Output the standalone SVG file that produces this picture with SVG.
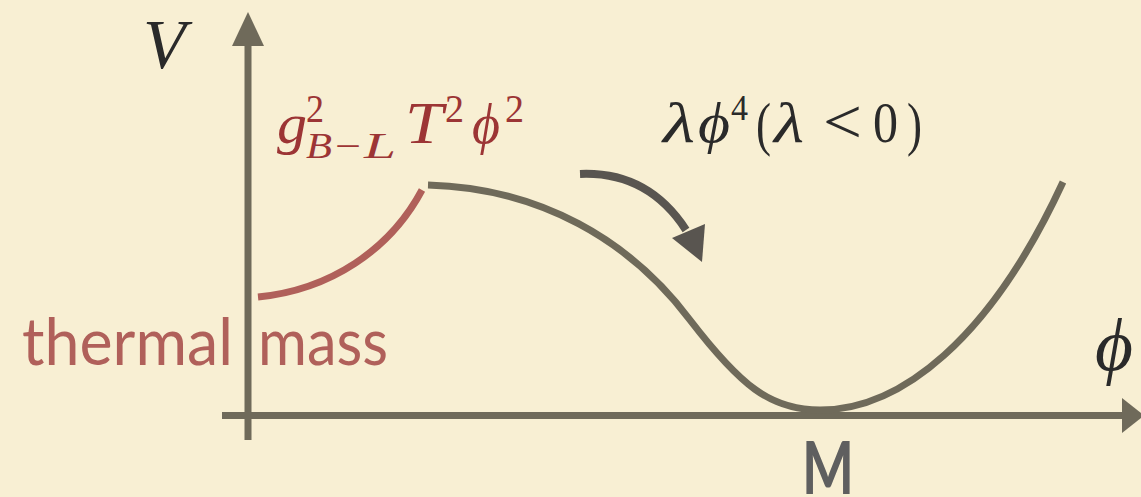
<svg xmlns="http://www.w3.org/2000/svg" width="1141" height="497" viewBox="0 0 1141 497">
<style>
.m{font-family:"Liberation Serif","DejaVu Serif",serif;font-style:italic;fill:#2a2a2a}
.u{font-family:"Liberation Serif","DejaVu Serif",serif;fill:#2a2a2a}
.r{fill:#9c3535}
.axis{stroke:#6f6a5a;stroke-width:7;fill:none}
.curve{stroke:#6f6a5a;stroke-width:7;fill:none;stroke-linecap:butt}
.gs{font-family:Lato,"Open Sans",sans-serif}
</style>
<rect width="1141" height="497" fill="#f8efd3"/>
<g id="axes">
<line class="axis" x1="248" y1="440" x2="248" y2="42"/>
<polygon points="248,12 232,46 264,46" fill="#6f6a5a"/>
<line class="axis" x1="222" y1="415.5" x2="1126" y2="415.5"/>
<polygon points="1122,398 1122,433 1144,415.5" fill="#6f6a5a"/>
</g>
<g id="connectors">
<path id="thermal-curve" d="M258,297 C330,290 390,250 422,190" stroke="#b0605a" stroke-width="7" fill="none"/>
<path id="potential-curve" class="curve" d="M428,185 C540,188 630,240 690,320 C740,385 770,410 820,410 C900,410 990,340 1063,182"/>
<path id="roll-arrow" d="M580,174 C628,172 662,193 686,230" stroke="#595550" stroke-width="8" fill="none"/>
<polygon points="672,238 705,224 702,262" fill="#595550"/>
</g>
<g id="label-V"><text class="m" x="143" y="68" font-size="70">V</text></g>
<g id="label-phi-axis"><text class="m" x="1095" y="370" font-size="74" textLength="38" lengthAdjust="spacingAndGlyphs">ϕ</text></g>
<g id="label-thermal-term">
<text class="m r" x="277" y="143" font-size="57" textLength="30" lengthAdjust="spacingAndGlyphs">g</text>
<text class="u r" x="306" y="122" font-size="40" textLength="18" lengthAdjust="spacingAndGlyphs">2</text>
<text class="m r" x="306" y="158" font-size="35" textLength="26" lengthAdjust="spacingAndGlyphs">B</text>
<text class="u r" x="335" y="158" font-size="35" textLength="26" lengthAdjust="spacingAndGlyphs">−</text>
<text class="m r" x="364" y="158" font-size="35" textLength="32" lengthAdjust="spacingAndGlyphs">L</text>
<text class="m r" x="405" y="143" font-size="60" textLength="38" lengthAdjust="spacingAndGlyphs">T</text>
<text class="u r" x="445" y="122" font-size="40" textLength="19" lengthAdjust="spacingAndGlyphs">2</text>
<text class="m r" x="472" y="143" font-size="57" textLength="28" lengthAdjust="spacingAndGlyphs">ϕ</text>
<text class="u r" x="505" y="122" font-size="40" textLength="19" lengthAdjust="spacingAndGlyphs">2</text>
</g>
<g id="label-lambda">
<text class="m" x="663" y="142" font-size="56" textLength="32" lengthAdjust="spacingAndGlyphs">λ</text>
<text class="m" x="698" y="142" font-size="56" textLength="32" lengthAdjust="spacingAndGlyphs">ϕ</text>
<text class="u" x="731" y="120" font-size="36" textLength="17" lengthAdjust="spacingAndGlyphs">4</text>
<text class="u" x="756" y="144" font-size="60" textLength="15" lengthAdjust="spacingAndGlyphs">(</text>
<text class="m" x="774" y="142" font-size="56" textLength="30" lengthAdjust="spacingAndGlyphs">λ</text>
<text class="u" x="823" y="143" font-size="64" textLength="39" lengthAdjust="spacingAndGlyphs">&lt;</text>
<text class="u" x="873" y="142" font-size="58" textLength="25" lengthAdjust="spacingAndGlyphs">0</text>
<text class="u" x="907" y="144" font-size="60" textLength="15" lengthAdjust="spacingAndGlyphs">)</text>
</g>
<g id="label-thermal-mass">
<text class="gs" x="22" y="365" font-size="66" fill="#b0605a" textLength="211" lengthAdjust="spacingAndGlyphs">thermal</text>
<text class="gs" x="258" y="365" font-size="66" fill="#b0605a" textLength="130" lengthAdjust="spacingAndGlyphs">mass</text>
</g>
<g id="label-M"><text class="gs" x="802" y="494" font-size="73" font-weight="bold" fill="#5f5f5f" textLength="52" lengthAdjust="spacingAndGlyphs">M</text></g>
</svg>
